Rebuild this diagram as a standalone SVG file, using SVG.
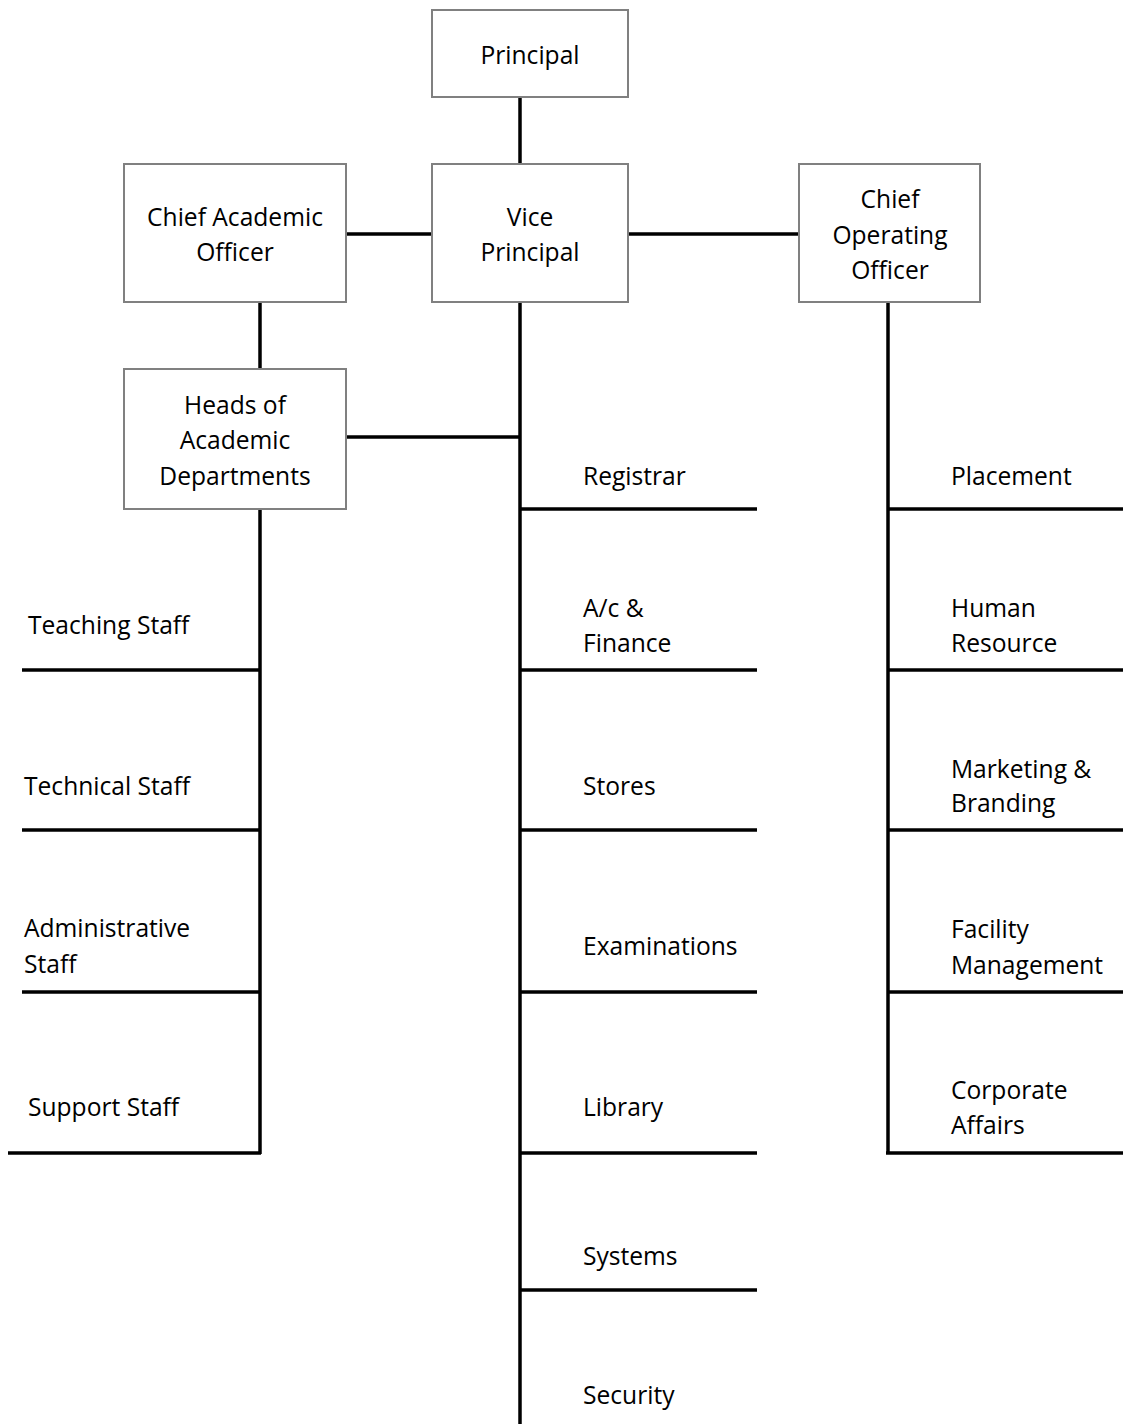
<svg xmlns="http://www.w3.org/2000/svg" width="1123" height="1424" viewBox="0 0 1123 1424">
<style>
.box{fill:#fff;stroke:#808080;stroke-width:2}
.ln{stroke:#000;stroke-width:3.5;fill:none}
text{font-family:"Open Sans","Noto Sans",sans-serif;font-size:24.6px;fill:#000}
.c{text-anchor:middle}
</style>
<rect width="1123" height="1424" fill="#fff"/>
<g id="connectors">
<line class="ln" x1="520" y1="97" x2="520" y2="164"/>
<line class="ln" x1="346" y1="234" x2="432" y2="234"/>
<line class="ln" x1="628" y1="234" x2="799" y2="234"/>
<line class="ln" x1="260" y1="302" x2="260" y2="369"/>
<line class="ln" x1="520" y1="302" x2="520" y2="1424"/>
<line class="ln" x1="346" y1="437" x2="520" y2="437"/>
<line class="ln" x1="260" y1="509" x2="260" y2="1154"/>
<line class="ln" x1="22" y1="670" x2="260" y2="670"/>
<line class="ln" x1="22" y1="830" x2="260" y2="830"/>
<line class="ln" x1="22" y1="992" x2="260" y2="992"/>
<line class="ln" x1="8" y1="1153" x2="261" y2="1153"/>
<line class="ln" x1="520" y1="509" x2="757" y2="509"/>
<line class="ln" x1="520" y1="670" x2="757" y2="670"/>
<line class="ln" x1="520" y1="830" x2="757" y2="830"/>
<line class="ln" x1="520" y1="992" x2="757" y2="992"/>
<line class="ln" x1="520" y1="1153" x2="757" y2="1153"/>
<line class="ln" x1="520" y1="1290" x2="757" y2="1290"/>
<line class="ln" x1="888" y1="302" x2="888" y2="1154"/>
<line class="ln" x1="888" y1="509" x2="1123" y2="509"/>
<line class="ln" x1="888" y1="670" x2="1123" y2="670"/>
<line class="ln" x1="888" y1="830" x2="1123" y2="830"/>
<line class="ln" x1="888" y1="992" x2="1123" y2="992"/>
<line class="ln" x1="886" y1="1153" x2="1123" y2="1153"/>
</g>
<g id="principal"><rect class="box" x="432" y="10" width="196" height="87"/><text class="c" x="530" y="64">Principal</text></g>
<g id="vice-principal"><rect class="box" x="432" y="164" width="196" height="138"/><text class="c" x="530" y="226">Vice</text><text class="c" x="530" y="261">Principal</text></g>
<g id="cao"><rect class="box" x="124" y="164" width="222" height="138"/><text class="c" x="235" y="226">Chief Academic</text><text class="c" x="235" y="261">Officer</text></g>
<g id="coo"><rect class="box" x="799" y="164" width="181" height="138"/><text class="c" x="890" y="208">Chief</text><text class="c" x="890" y="244">Operating</text><text class="c" x="890" y="279">Officer</text></g>
<g id="heads"><rect class="box" x="124" y="369" width="222" height="140"/><text class="c" x="235" y="414">Heads of</text><text class="c" x="235" y="449">Academic</text><text class="c" x="235" y="485">Departments</text></g>
<g id="teaching"><text x="28" y="634">Teaching Staff</text></g>
<g id="technical"><text x="24" y="795">Technical Staff</text></g>
<g id="administrative"><text x="24" y="937">Administrative</text><text x="24" y="973">Staff</text></g>
<g id="support"><text x="28" y="1116">Support Staff</text></g>
<g id="registrar"><text x="583" y="485">Registrar</text></g>
<g id="finance"><text x="583" y="617">A/c &amp;</text><text x="583" y="652">Finance</text></g>
<g id="stores"><text x="583" y="795">Stores</text></g>
<g id="examinations"><text x="583" y="955">Examinations</text></g>
<g id="library"><text x="583" y="1116">Library</text></g>
<g id="systems"><text x="583" y="1265">Systems</text></g>
<g id="security"><text x="583" y="1404">Security</text></g>
<g id="placement"><text x="951" y="485">Placement</text></g>
<g id="hr"><text x="951" y="617">Human</text><text x="951" y="652">Resource</text></g>
<g id="marketing"><text x="951" y="778">Marketing &amp;</text><text x="951" y="812">Branding</text></g>
<g id="facility"><text x="951" y="938">Facility</text><text x="951" y="974">Management</text></g>
<g id="corporate"><text x="951" y="1099">Corporate</text><text x="951" y="1134">Affairs</text></g>
</svg>
